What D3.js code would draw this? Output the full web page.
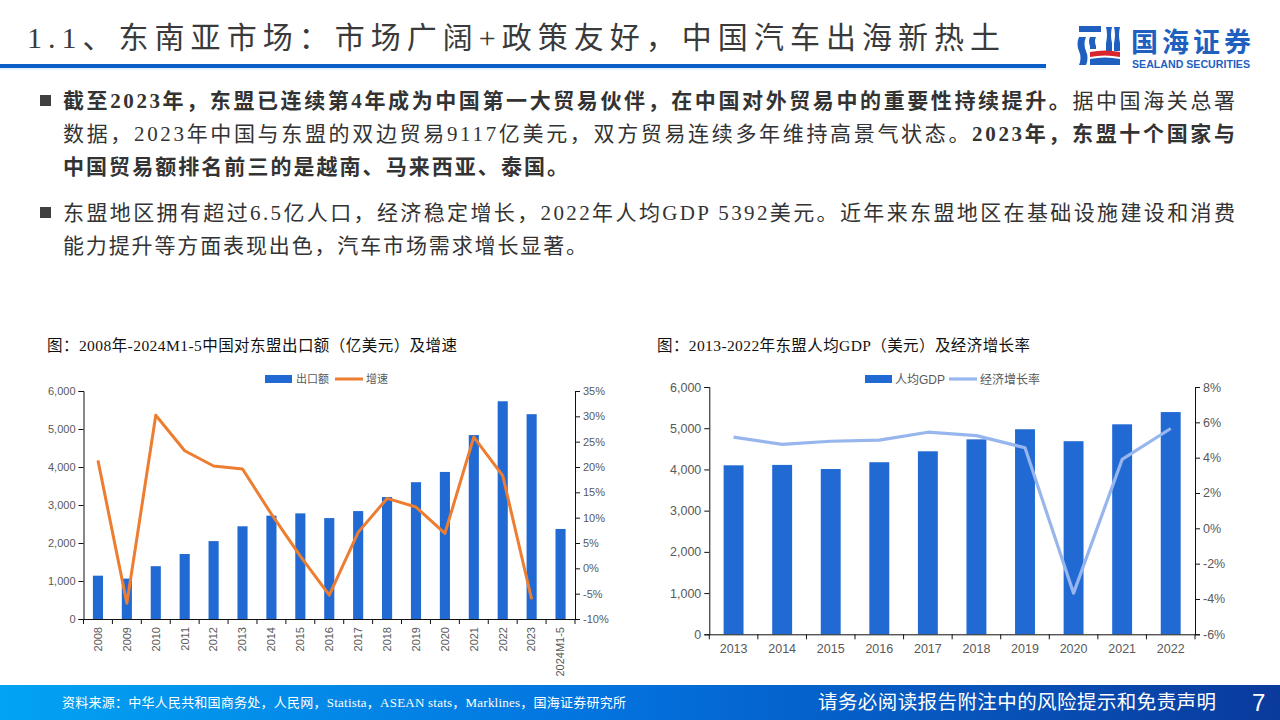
<!DOCTYPE html>
<html><head><meta charset="utf-8">
<script src="https://cdn.jsdelivr.net/npm/d3@7"></script>
<style>body{margin:0;background:#fff;overflow:hidden}</style>
</head><body>
<svg id="c" width="1280" height="720" xmlns="http://www.w3.org/2000/svg"></svg>
<script>
// ---------- DATA ----------
const exportYears = ["2008","2009","2010","2011","2012","2013","2014","2015","2016","2017","2018","2019","2020","2021","2022","2023","2024M1-5"];
const exportValues = [1140,1063,1390,1710,2050,2440,2720,2780,2656,2840,3210,3600,3870,4840,5730,5390,2370];
const exportGrowth = [21.3,-6.9,30.2,23.2,20.2,19.6,10.7,2.4,-5.3,7.1,13.8,12.1,6.9,25.9,18.3,-6.1,null];
const exportLeftTicks = [0,1000,2000,3000,4000,5000,6000];
const exportRightTicks = [-10,-5,0,5,10,15,20,25,30,35];

const gdpYears = ["2013","2014","2015","2016","2017","2018","2019","2020","2021","2022"];
const gdpPerCapita = [4100,4110,4010,4175,4440,4730,4975,4685,5095,5392];
const gdpGrowth = [5.16,4.75,4.93,4.99,5.44,5.25,4.56,-3.67,3.9,5.65];
const gdpLeftTicks = [0,1000,2000,3000,4000,5000,6000];
const gdpRightTicks = [-6,-4,-2,0,2,4,6,8];

const headerTitle = "1.1、东南亚市场：市场广阔+政策友好，中国汽车出海新热土";
const chart1Title = "图：2008年-2024M1-5中国对东盟出口额（亿美元）及增速";
const chart2Title = "图：2013-2022年东盟人均GDP（美元）及经济增长率";
const sourceText = "资料来源：中华人民共和国商务处，人民网，Statista，ASEAN stats，Marklines，国海证券研究所";
const disclaimer = "请务必阅读报告附注中的风险提示和免责声明";

// ---------- STYLE ----------
const BAR = "#216ad3", ORANGE = "#ed7d31", LIGHT = "#97b6ee", TICK = "#595959";
const CJK = "'Liberation Serif','Noto Sans CJK SC',serif";
const SANS = "'Liberation Sans','Noto Sans CJK SC',Arial,sans-serif";

const svg = d3.select("#c");
const defs = svg.append("defs");

// ---------- HEADER ----------
svg.append("text").attr("x",27).attr("y",48).attr("font-family",CJK).attr("font-size",30)
  .attr("fill","#3a3a3a").attr("textLength",973).attr("lengthAdjust","spacing").text(headerTitle);
svg.append("rect").attr("x",0).attr("y",64).attr("width",1046).attr("height",4).attr("fill","#0b5ec6");
svg.append("rect").attr("x",0).attr("y",68).attr("width",1046).attr("height",2).attr("fill","#e6f1fb");

// logo
const lg = svg.append("g");
lg.append("rect").attr("x",1079).attr("y",26).attr("width",22).attr("height",6).attr("fill","#1f5fbf");
lg.append("path").attr("d","M1079,37 h7 q-3,7 0,14 q3,7 0,14 h-7 q3,-7 0,-14 q-3,-7 0,-14z").attr("fill","#1f5fbf");
lg.append("path").attr("d","M1090,37 h6 q-2,4 0,9 v3 h-6 v-3 q-2,-5 0,-9z").attr("fill","#1f5fbf");
lg.append("path").attr("d","M1106,27 h6 q-2,8 0,16 v8 h-6 v-8 q2,-8 0,-16z").attr("fill","#1f5fbf");
lg.append("path").attr("d","M1114,27 h6 q-2,8 0,16 v8 h-6 v-8 q2,-8 0,-16z").attr("fill","#1f5fbf");
lg.append("path").attr("d","M1090,52 q15,-3 30,0 v5 q-15,-3 -30,0z").attr("fill","#d8262e");
lg.append("path").attr("d","M1090,59 q15,-3 30,0 v6 h-30z").attr("fill","#1f5fbf");
svg.append("text").attr("x",1131).attr("y",52).attr("font-family","'Noto Sans CJK SC',sans-serif")
  .attr("font-weight",700).attr("font-size",27).attr("fill","#1f5fbf").attr("textLength",120)
  .attr("lengthAdjust","spacing").text("国海证券");
svg.append("text").attr("x",1132).attr("y",68).attr("font-family","'Liberation Sans',Arial,sans-serif")
  .attr("font-weight",700).attr("font-size",10.5).attr("fill","#1f5fbf").attr("textLength",118)
  .attr("lengthAdjust","spacingAndGlyphs").text("SEALAND SECURITIES");

// ---------- BODY TEXT ----------
const bodyLines = [
  {y:108, fit:1172, bullet:true, segs:[["截至2023年，东盟已连续第4年成为中国第一大贸易伙伴，在中国对外贸易中的重要性持续提升。",true],["据中国海关总署",false]]},
  {y:141, fit:1172, segs:[["数据，2023年中国与东盟的双边贸易9117亿美元，双方贸易连续多年维持高景气状态。",false],["2023年，东盟十个国家与",true]]},
  {y:174, fit:505, segs:[["中国贸易额排名前三的是越南、马来西亚、泰国。",true]]},
  {y:220, fit:1172, bullet:true, segs:[["东盟地区拥有超过6.5亿人口，经济稳定增长，2022年人均GDP 5392美元。近年来东盟地区在基础设施建设和消费",false]]},
  {y:253, fit:524, segs:[["能力提升等方面表现出色，汽车市场需求增长显著。",false]]}
];
bodyLines.forEach(l=>{
  if(l.bullet) svg.append("rect").attr("x",40).attr("y",l.y-13).attr("width",11).attr("height",11).attr("fill","#404040");
  const t = svg.append("text").attr("x",63).attr("y",l.y).attr("font-family",CJK).attr("font-size",21).attr("fill","#333")
    .attr("textLength",l.fit).attr("lengthAdjust","spacing");
  l.segs.forEach(s=>t.append("tspan").attr("font-weight",s[1]?700:400).text(s[0]));
});

// ---------- CHART 1 ----------
(function(){
  const x0=83.5, x1=575, yTop=391, yBot=619;
  svg.append("text").attr("x",47).attr("y",351).attr("font-family",CJK).attr("font-size",15.5).attr("fill","#111")
    .attr("textLength",410).attr("lengthAdjust","spacing").text(chart1Title);
  const x = d3.scaleBand().domain(exportYears).range([x0,x1]).paddingInner(0.65).paddingOuter(0.325);
  const y = d3.scaleLinear().domain([0,6000]).range([yBot,yTop]);
  const y2 = d3.scaleLinear().domain([-10,35]).range([yBot,yTop]);
  const g = svg.append("g");
  g.selectAll("rect.b").data(exportYears).join("rect").attr("class","b")
    .attr("x",d=>x(d)).attr("width",x.bandwidth())
    .attr("y",(d,i)=>y(exportValues[i])).attr("height",(d,i)=>yBot-y(exportValues[i])).attr("fill",BAR);
  const line = d3.line().defined(d=>d.v!=null).x(d=>x(d.k)+x.bandwidth()/2).y(d=>y2(d.v));
  g.append("path").datum(exportYears.map((k,i)=>({k,v:exportGrowth[i]}))).attr("d",line)
    .attr("fill","none").attr("stroke",ORANGE).attr("stroke-width",3).attr("stroke-linejoin","round");
  const ax = svg.append("g").attr("transform",`translate(${x0},0)`)
    .call(d3.axisLeft(y).tickValues(exportLeftTicks).tickFormat(d3.format(",")).tickSizeOuter(0).tickSize(5));
  const ax2 = svg.append("g").attr("transform",`translate(${x1},0)`)
    .call(d3.axisRight(y2).tickValues(exportRightTicks).tickFormat(d=>d+"%").tickSizeOuter(0).tickSize(5));
  const axb = svg.append("g").attr("transform",`translate(0,${yBot})`)
    .call(d3.axisBottom(x).tickSize(0).tickSizeOuter(0));
  [ax,ax2,axb].forEach(a=>{a.selectAll("path,line").attr("stroke","#111");
    a.selectAll("text").attr("fill",TICK).attr("font-family",SANS).attr("font-size",11);});
  axb.selectAll("text").attr("transform","rotate(-90)").attr("text-anchor","end")
    .attr("x",-8).attr("y",0).attr("dy","0.35em");
  const bounds = d3.range(exportYears.length+1).map(i=>x0+i*(x1-x0)/exportYears.length);
  svg.append("g").selectAll("line").data(bounds).join("line")
    .attr("x1",d=>d).attr("x2",d=>d).attr("y1",yBot).attr("y2",yBot+5).attr("stroke","#111");
  svg.append("rect").attr("x",265).attr("y",375).attr("width",27).attr("height",8).attr("fill",BAR);
  svg.append("text").attr("x",296).attr("y",383).attr("font-family",SANS).attr("font-size",11).attr("fill",TICK).text("出口额");
  svg.append("line").attr("x1",335).attr("x2",363).attr("y1",379).attr("y2",379).attr("stroke",ORANGE).attr("stroke-width",3);
  svg.append("text").attr("x",366).attr("y",383).attr("font-family",SANS).attr("font-size",11).attr("fill",TICK).text("增速");
})();

// ---------- CHART 2 ----------
(function(){
  const x0=709.3, x1=1195, yTop=387, yBot=634.3;
  svg.append("text").attr("x",657).attr("y",351).attr("font-family",CJK).attr("font-size",15.5).attr("fill","#111")
    .attr("textLength",373).attr("lengthAdjust","spacing").text(chart2Title);
  const x = d3.scaleBand().domain(gdpYears).range([x0,x1]).paddingInner(0.59).paddingOuter(0.295);
  const y = d3.scaleLinear().domain([0,6000]).range([yBot,yTop]);
  const y2 = d3.scaleLinear().domain([-6,8]).range([yBot,yTop]);
  const g = svg.append("g");
  g.selectAll("rect.b").data(gdpYears).join("rect").attr("class","b")
    .attr("x",d=>x(d)).attr("width",x.bandwidth())
    .attr("y",(d,i)=>y(gdpPerCapita[i])).attr("height",(d,i)=>yBot-y(gdpPerCapita[i])).attr("fill",BAR);
  const line = d3.line().x(d=>x(d.k)+x.bandwidth()/2).y(d=>y2(d.v));
  g.append("path").datum(gdpYears.map((k,i)=>({k,v:gdpGrowth[i]}))).attr("d",line)
    .attr("fill","none").attr("stroke",LIGHT).attr("stroke-width",3.2).attr("stroke-linejoin","round");
  const ax = svg.append("g").attr("transform",`translate(${x0},0)`)
    .call(d3.axisLeft(y).tickValues(gdpLeftTicks).tickFormat(d3.format(",")).tickSizeOuter(0).tickSize(5));
  const ax2 = svg.append("g").attr("transform",`translate(${x1},0)`)
    .call(d3.axisRight(y2).tickValues(gdpRightTicks).tickFormat(d=>d+"%").tickSizeOuter(0).tickSize(5));
  const axb = svg.append("g").attr("transform",`translate(0,${yBot})`)
    .call(d3.axisBottom(x).tickSize(0).tickSizeOuter(0).tickPadding(10));
  [ax,ax2,axb].forEach(a=>{a.selectAll("path,line").attr("stroke","#111");
    a.selectAll("text").attr("fill",TICK).attr("font-family",SANS).attr("font-size",12.5);});
  const bounds = d3.range(gdpYears.length+1).map(i=>x0+i*(x1-x0)/gdpYears.length);
  svg.append("g").selectAll("line").data(bounds).join("line")
    .attr("x1",d=>d).attr("x2",d=>d).attr("y1",yBot).attr("y2",yBot+5).attr("stroke","#111");
  svg.append("rect").attr("x",865).attr("y",375).attr("width",27).attr("height",8).attr("fill",BAR);
  svg.append("text").attr("x",895).attr("y",383.5).attr("font-family",SANS).attr("font-size",12).attr("fill",TICK).text("人均GDP");
  svg.append("line").attr("x1",949).attr("x2",977).attr("y1",379).attr("y2",379).attr("stroke",LIGHT).attr("stroke-width",3.2);
  svg.append("text").attr("x",980).attr("y",383.5).attr("font-family",SANS).attr("font-size",12).attr("fill",TICK).text("经济增长率");
})();

// ---------- FOOTER ----------
const grad = defs.append("linearGradient").attr("id","fg").attr("x1","0").attr("x2","1").attr("y1","0").attr("y2","0");
grad.append("stop").attr("offset","0").attr("stop-color","#02a3f3");
grad.append("stop").attr("offset","0.5").attr("stop-color","#0370dc");
grad.append("stop").attr("offset","1").attr("stop-color","#0a3a9c");
svg.append("rect").attr("x",0).attr("y",685).attr("width",1280).attr("height",35).attr("fill","url(#fg)");
svg.append("text").attr("x",62).attr("y",707).attr("font-family",CJK).attr("font-size",13).attr("fill","#fff")
  .attr("textLength",564).attr("lengthAdjust","spacing").text(sourceText);
svg.append("text").attr("x",818).attr("y",709).attr("font-family","'Noto Sans CJK SC',sans-serif").attr("font-size",19.5)
  .attr("fill","#fff").attr("textLength",398).attr("lengthAdjust","spacing").text(disclaimer);
svg.append("text").attr("x",1252).attr("y",711).attr("font-family",SANS).attr("font-size",24).attr("fill","#fff").text("7");
</script>
</body></html>
